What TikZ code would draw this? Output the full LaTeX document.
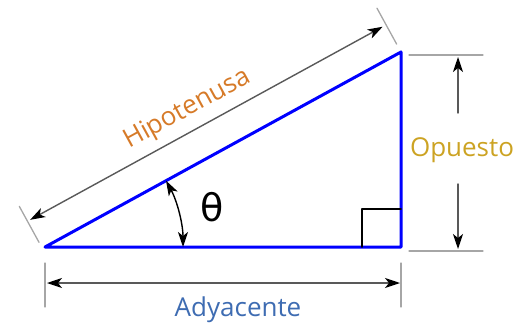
\documentclass[tikz,border=0pt]{standalone}
\usepackage{fontspec}
\setmainfont{Open Sans}
\newfontfamily\thetafont{DejaVu Sans}
\usetikzlibrary{arrows.meta,calc}
\definecolor{camHip}{RGB}{214,122,40}
\definecolor{vangOp}{RGB}{204,163,35}
\definecolor{xanhAdy}{RGB}{62,108,178}
\begin{document}
\begin{tikzpicture}[x=1pt,y=1pt,line join=round,line cap=round,font=\fontsize{26}{30}\selectfont,
	canh/.style={blue,line width=3pt},
	vuong/.style={black,line width=1.6pt},
	gioihan/.style={gray!70,line width=1.3pt},
	mui/.tip={Stealth[length=15pt,width=10pt,inset=4pt,color=black]},
	kichthuoc/.style={gray!70!black,line width=1.4pt,mui-mui},
	nhan/.style={inner sep=0pt}]
	\def\goc{28.71}
	\def\dai{405.9}
	\useasboundingbox (0,0) rectangle (532,325);
	
	% Các đỉnh
	\coordinate (A) at (45,78);
	\coordinate (B) at (401,78);
	\coordinate (C) at (401,273);
	
	% Tam giác vuông
	\draw[canh] (A) -- (B) -- (C) -- cycle;
	
	% Ký hiệu góc vuông
	\draw[vuong] ($(B)+(-39,0)$) -- ++(0,38) -- ++(39,0);
	
	% Cạnh kề
	\draw[gioihan] ($(A)+(0,-16)$) -- ($(A)+(0,-60)$);
	\draw[gioihan] ($(B)+(0,-16)$) -- ($(B)+(0,-60)$);
	\coordinate (K1) at ($(A)+(2,-36)$);
	\coordinate (K2) at ($(B)+(-1,-36)$);
	\draw[kichthuoc] (K1) -- (K2);
	\node[nhan,anchor=base,text=xanhAdy] (ady) at (238,9) {Adyacente};
	
	% Cạnh đối
	\draw[gioihan] (409,270) -- (483,270);
	\draw[gioihan] (409,74) -- (483,74);
	\node[nhan,text=vangOp] (op) at (462,175) {Opuesto};
	\coordinate (D1) at (458,212);
	\coordinate (D2) at (458,268);
	\coordinate (D3) at (458,141);
	\coordinate (D4) at (458,76);
	\draw[kichthuoc,-mui] (D1) -- (D2);
	\draw[kichthuoc,-mui] (D3) -- (D4);
	
	% Cạnh huyền
	\begin{scope}[shift={(A)},rotate=\goc]
		\draw[gioihan] (-3,7) -- (-3,48);
		\draw[gioihan] (\dai,9) -- (\dai,50);
		\coordinate (H1) at (0,31);
		\coordinate (H2) at (\dai-4,31);
		\draw[kichthuoc] (H1) -- (H2);
		\node[nhan,rotate=\goc,text=camHip] (hip) at (191,52) {Hipotenusa};
	\end{scope}
	
	% Góc theta
	\draw[kichthuoc,black] ($(A)+(138,0)$) arc[start angle=0,end angle=\goc,radius=138pt];
	\node[nhan] (theta) at (212,118) {\thetafont\fontsize{38}{40}\selectfont θ};
\end{tikzpicture}
\end{document}
